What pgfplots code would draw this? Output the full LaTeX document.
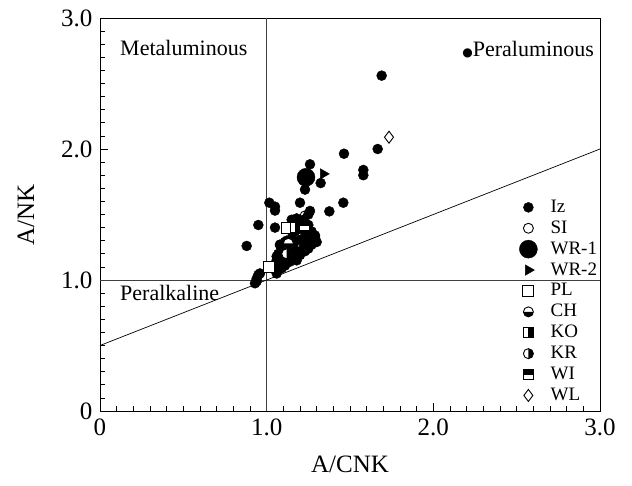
\documentclass[border=0pt]{standalone}
\usepackage{fontspec}
\setmainfont{Liberation Serif}
\newfontfamily\dejavu{DejaVu Sans}
\usepackage{pgfplots}
\pgfplotsset{compat=1.18}

\pgfdeclareplotmark{halfcircB}{%
 \pgfsetfillcolor{white}\pgfpathcircle{\pgfpointorigin}{\pgfplotmarksize}\pgfusepathqfill
 \pgfsetfillcolor{black}%
 \pgfpathmoveto{\pgfpoint{-\pgfplotmarksize}{0pt}}%
 \pgfpatharc{180}{360}{\pgfplotmarksize}%
 \pgfpathclose\pgfusepathqfill
 \pgfpathcircle{\pgfpointorigin}{\pgfplotmarksize}\pgfusepathqstroke
}
\pgfdeclareplotmark{halfcircR}{%
 \pgfsetfillcolor{white}\pgfpathcircle{\pgfpointorigin}{\pgfplotmarksize}\pgfusepathqfill
 \pgfsetfillcolor{black}%
 \pgfpathmoveto{\pgfpoint{0pt}{-\pgfplotmarksize}}%
 \pgfpatharc{270}{450}{\pgfplotmarksize}%
 \pgfpathclose\pgfusepathqfill
 \pgfpathcircle{\pgfpointorigin}{\pgfplotmarksize}\pgfusepathqstroke
}
\pgfdeclareplotmark{halfsqR}{%
 \pgfsetfillcolor{white}%
 \pgfpathrectanglecorners{\pgfpoint{-\pgfplotmarksize}{-\pgfplotmarksize}}{\pgfpoint{\pgfplotmarksize}{\pgfplotmarksize}}\pgfusepathqfill
 \pgfsetfillcolor{black}%
 \pgfpathrectanglecorners{\pgfpoint{0pt}{-\pgfplotmarksize}}{\pgfpoint{\pgfplotmarksize}{\pgfplotmarksize}}\pgfusepathqfill
 \pgfpathrectanglecorners{\pgfpoint{-\pgfplotmarksize}{-\pgfplotmarksize}}{\pgfpoint{\pgfplotmarksize}{\pgfplotmarksize}}\pgfusepathqstroke
}
\pgfdeclareplotmark{halfsqT}{%
 \pgfsetfillcolor{white}%
 \pgfpathrectanglecorners{\pgfpoint{-\pgfplotmarksize}{-\pgfplotmarksize}}{\pgfpoint{\pgfplotmarksize}{\pgfplotmarksize}}\pgfusepathqfill
 \pgfsetfillcolor{black}%
 \pgfpathrectanglecorners{\pgfpoint{-\pgfplotmarksize}{0pt}}{\pgfpoint{\pgfplotmarksize}{\pgfplotmarksize}}\pgfusepathqfill
 \pgfpathrectanglecorners{\pgfpoint{-\pgfplotmarksize}{-\pgfplotmarksize}}{\pgfpoint{\pgfplotmarksize}{\pgfplotmarksize}}\pgfusepathqstroke
}

\begin{document}
\begin{tikzpicture}
\path[use as bounding box] (-100pt,-74pt) rectangle (532pt,411pt);
\begin{axis}[
  at={(0,0)}, anchor=south west,
  scale only axis, width=500pt, height=393pt,
  xmin=0, xmax=3, ymin=0, ymax=3,
  xtick={0,1,2,3}, xticklabels={0,1.0,2.0,3.0},
  ytick={0,1,2,3}, yticklabels={0,1.0,2.0,3.0},
  minor x tick num=9, minor y tick num=9,
  tick align=inside, xtick pos=left, ytick pos=left,
  major tick length=8pt, minor tick length=5pt,
  tick style={black, line width=0.8pt},
  axis line style={line width=0.9pt},
  ticklabel style={font=\fontsize{25}{30}\selectfont},
  xticklabel style={yshift=-4pt},
  yticklabel style={xshift=-4pt},
  label style={font=\fontsize{25}{30}\selectfont},
  xlabel={A/CNK}, ylabel={A/NK},
  xlabel style={at={(axis description cs:0.5,-0.137)}, anchor=center},
  ylabel style={at={(axis description cs:-0.148,0.5)}, anchor=center},
  clip=false,
  legend style={draw=none, fill=none, at={(axis cs:2.49,1.64)}, anchor=north west,
    font=\fontsize{19}{21}\selectfont, row sep=2.9pt,
    nodes={text height=13pt, text depth=3pt, inner sep=1pt}},
  legend cell align=left,
  legend image code/.code={\path (0pt,0pt) (31pt,0pt); \draw[mark repeat=2,mark phase=2] plot coordinates {(0pt,0pt) (10pt,0pt) (20pt,0pt)};},
]
% reference lines
\addplot[forget plot, black!75, line width=0.7pt] coordinates {(1,0) (1,3)};
\addplot[forget plot, black!75, line width=0.7pt] coordinates {(0,1) (3,1)};
\addplot[forget plot, black, line width=0.7pt] coordinates {(0,0.5) (3,2.0)};
% Iz
\addplot[only marks, mark=*, mark size=5pt, black] coordinates {
(1.69,2.56) (1.666,2.0) (1.464,1.964) (1.58,1.84) (1.58,1.80) (1.26,1.883)
(1.324,1.74) (1.23,1.69) (1.22,1.76) (1.016,1.59) (1.05,1.56) (1.05,1.53) (1.20,1.59)
(1.46,1.59) (1.376,1.524) (1.26,1.527) (0.95,1.42) (1.05,1.40) (0.88,1.26)
(1.15,1.46) (1.18,1.47) (1.21,1.445) (1.26,1.356) (1.29,1.34) (1.24,1.305)
(1.20,1.305) (1.16,1.267) (1.08,1.267) (1.07,1.20) (1.19,1.216) (1.22,1.24)
(1.27,1.29) (1.18,1.15) (1.06,1.15) (1.04,1.11) (1.06,1.076) (0.96,1.05)
(0.94,1.01) (0.93,0.975) (1.24,1.38) (1.23,1.33) (1.14,1.24) (1.12,1.30)
(1.25,1.42) (1.10,1.20) (1.17,1.19) (1.15,1.22) (1.09,1.14)
(1.07,1.14) (1.06,1.18) (1.09,1.22) (1.08,1.27) (1.11,1.29) (1.15,1.32)
(1.17,1.37) (1.20,1.39) (1.24,1.41) (1.27,1.37) (1.29,1.33) (1.30,1.29)
(1.27,1.27) (1.25,1.24) (1.23,1.22) (1.20,1.19) (1.17,1.17) (1.14,1.14)
(1.11,1.11) (1.09,1.09) (1.06,1.05) (1.21,1.31) (1.24,1.33) (1.22,1.46)
(1.25,1.50) (0.95,1.04) (0.94,0.99)
};
\addlegendentry{Iz}
% SI
\addplot[only marks, mark=o, mark size=5pt, black, mark options={fill=white, line width=0.9pt}] coordinates {(1.23,1.49)};
\addlegendentry{SI}
% WR-1
\addplot[only marks, mark=*, mark size=9pt, black] coordinates {(1.236,1.784)};
\addlegendentry{WR-1}
% WR-2
\addplot[only marks, mark=triangle*, mark size=6pt, black, mark options={rotate=-90}] coordinates {(1.34,1.81)};
\addlegendentry{WR-2}
% PL
\addplot[only marks, mark=square*, mark size=5.5pt, black, mark options={fill=white, line width=0.9pt}] coordinates {(1.12,1.40) (1.014,1.10)};
\addlegendentry{PL}
% CH
\addplot[only marks, mark=halfcircB, mark size=5pt, black, mark options={line width=0.9pt}] coordinates {(1.13,1.28)};
\addlegendentry{CH}
% KO
\addplot[only marks, mark=halfsqR, mark size=5pt, black, mark options={line width=0.9pt}] coordinates {(1.17,1.40)};
\addlegendentry{KO}
% KR
\addplot[only marks, mark=halfcircR, mark size=5pt, black, mark options={line width=0.9pt}] coordinates {(1.12,1.20)};
\addlegendentry{KR}
% WI
\addplot[only marks, mark=halfsqT, mark size=5pt, black, mark options={line width=0.9pt}] coordinates {(1.226,1.415)};
\addlegendentry{WI}
% WL
\addplot[only marks, mark=diamond*, mark size=6pt, black, mark options={fill=white, line width=0.9pt}] coordinates {(1.734,2.09)};
\addlegendentry{WL}

\node[anchor=west, font=\fontsize{22}{26}\selectfont] at (axis cs:0.1,2.77) {Metaluminous};
\node[anchor=east, font=\fontsize{22}{26}\selectfont, inner sep=1pt] at (axis cs:2.97,2.755) {{\dejavu\fontsize{12}{14}\selectfont ●}Peraluminous};
\node[anchor=west, font=\fontsize{22}{26}\selectfont] at (axis cs:0.1,0.90) {Peralkaline};
\end{axis}
\end{tikzpicture}
\end{document}
